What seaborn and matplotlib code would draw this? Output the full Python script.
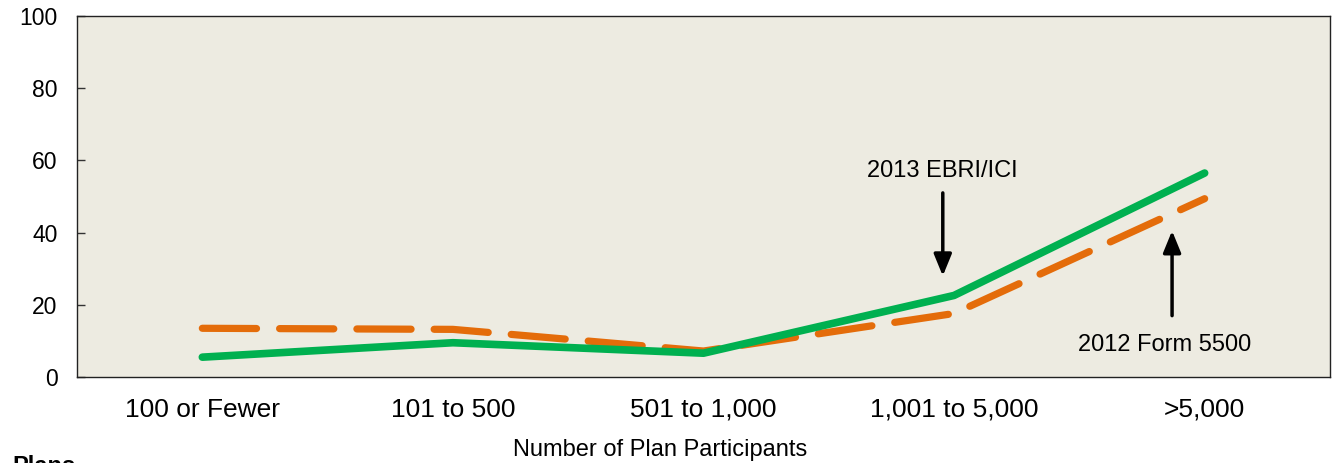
import matplotlib
matplotlib.use("Agg")
import matplotlib.pyplot as plt
import seaborn as sns
import pandas as pd

categories = ["100 or Fewer", "101 to 500", "501 to 1,000", "1,001 to 5,000", ">5,000"]
ebri_2013 = [5.5, 9.5, 6.6, 22.6, 56.5]
form5500_2012 = [13.5, 13.2, 7.2, 17.6, 49.4]
yticks = [0, 20, 40, 60, 80, 100]

sns.set_theme(style="white")
plt.rcParams['font.family'] = ['Liberation Sans', 'DejaVu Sans']
plt.rcParams['text.color'] = 'black'
plt.rcParams['xtick.color'] = 'black'
plt.rcParams['ytick.color'] = 'black'
plt.rcParams['axes.labelcolor'] = 'black'

df = pd.DataFrame({
    "cat": categories * 2,
    "x": list(range(len(categories))) * 2,
    "value": ebri_2013 + form5500_2012,
    "series": ["2013 EBRI/ICI"] * len(categories) + ["2012 Form 5500"] * len(categories),
})

fig = plt.figure(figsize=(13.33, 4.63), dpi=100)
ax = fig.add_axes([0.0578, 0.1857, 0.9399, 0.7797])
ax.set_facecolor("#EDEBE1")

sns.lineplot(data=df[df.series == "2012 Form 5500"], x="x", y="value", ax=ax,
             color="#E46C0A", linewidth=5.2, legend=False)
ax.lines[-1].set_dashes([7.5, 3.2])
ax.lines[-1].set_dash_capstyle("round")
ax.lines[-1].set_solid_joinstyle("round")
sns.lineplot(data=df[df.series == "2013 EBRI/ICI"], x="x", y="value", ax=ax,
             color="#00B050", linewidth=5.5, legend=False)
ax.lines[-1].set_solid_capstyle("round")
ax.lines[-1].set_solid_joinstyle("round")

ax.set_xlim(-0.5, 4.5)
ax.set_ylim(0, 100)
ax.set_yticks(yticks)
ax.set_yticklabels([str(t) for t in yticks], fontsize=16.5)
ax.set_xticks(range(len(categories)))
ax.set_xticklabels(categories, fontsize=19)
ax.tick_params(axis="x", length=0, pad=15)
ax.tick_params(axis="y", direction="in", length=6, width=1, color="#333333", pad=14, left=True)
ax.set_xlabel("Number of Plan Participants", fontsize=17)
ax.xaxis.set_label_coords(0.465, -0.172)
ax.set_ylabel("")
for s in ax.spines.values():
    s.set_color("#222222")
    s.set_linewidth(1.0)

arrow = dict(arrowstyle="-|>,head_length=1.1,head_width=0.45", color="black", lw=2.5,
             shrinkA=0, shrinkB=0)
ax.annotate("", xy=(2.955, 28.0), xytext=(2.955, 51), arrowprops=arrow)
ax.text(2.955, 54, "2013 EBRI/ICI", fontsize=17, ha="center", va="bottom")
ax.annotate("", xy=(3.87, 40.5), xytext=(3.87, 17), arrowprops=arrow)
ax.text(3.84, 8.9, "2012 Form 5500", fontsize=17, ha="center", va="center")

fig.text(0.009, 0.018, "Plans", fontsize=17, fontweight="bold", ha="left", va="top")

fig.savefig("out.png", dpi=100)
